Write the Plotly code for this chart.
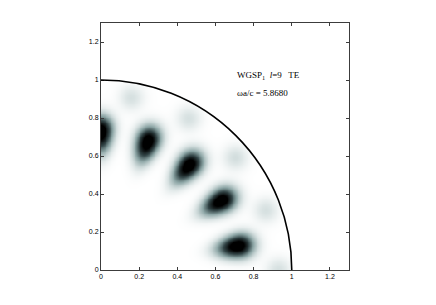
import numpy as np
import plotly.graph_objects as go

# Field lobes (polar position and relative strength)
blob_r = [0.73, 0.72, 0.72, 0.73, 0.73, 0.93, 0.92, 0.92, 0.92, 0.92]
blob_deg = [90, 70, 50, 30, 10, 0, 20, 40, 60, 80]
blob_peak = [1.0, 1.0, 1.0, 1.0, 1.0, 0.13, 0.13, 0.14, 0.13, 0.13]

tick_vals = [0, 0.2, 0.4, 0.6, 0.8, 1, 1.2]
tick_text = ["0", "0.2", "0.4", "0.6", "0.8", "1", "1.2"]

title_line1 = "WGSP<sub>1</sub>  <i>l</i>=9   TE"
title_line2 = "ωa/c = 5.8680"

# rendering grid
n = 300
gx = np.linspace(0, 1.3, n)
gy = np.linspace(0, 1.3, n)
X, Y = np.meshgrid(gx, gy)
R = np.hypot(X, Y)
T = np.arctan2(Y, X)
Z = np.zeros_like(X)
for r0, d0, p in zip(blob_r, blob_deg, blob_peak):
    t0 = np.deg2rad(d0)
    dr = R - r0
    if p > 0.5:
        sr = np.where(dr < 0, 0.075, 0.055)
        st = 0.042
    else:
        sr = 0.045
        st = 0.045
    dt = np.angle(np.exp(1j * (T - t0))) * r0
    Z += p * np.exp(-0.5 * (dr / sr) ** 2 - 0.5 * (dt / st) ** 2)
Z[R > 1] = 0

gray_teal = [
    [0.0, "rgb(255,255,255)"],
    [0.15, "rgb(215,225,225)"],
    [0.4, "rgb(140,165,165)"],
    [0.7, "rgb(50,68,70)"],
    [1.0, "rgb(0,0,0)"],
]

fig = go.Figure()
fig.add_trace(go.Heatmap(x=gx, y=gy, z=Z, colorscale=gray_teal, zmin=0, zmax=0.85,
                         showscale=False, hoverinfo="skip"))

fig.add_shape(type="circle", xref="x", yref="y", x0=-1, y0=-1, x1=1, y1=1,
              line=dict(color="black", width=1.6))

fig.add_annotation(x=0.705, y=1.025, xref="x", yref="y", text=title_line1,
                   showarrow=False, xanchor="left", yanchor="middle",
                   font=dict(family="Liberation Serif", size=9, color="black"))
fig.add_annotation(x=0.705, y=0.93, xref="x", yref="y", text=title_line2,
                   showarrow=False, xanchor="left", yanchor="middle",
                   font=dict(family="Liberation Serif", size=9, color="black"))

axis_common = dict(range=[0, 1.3], tickvals=tick_vals, ticktext=tick_text,
                   ticks="inside", ticklen=3, tickcolor="rgb(60,60,60)",
                   showline=True, linecolor="rgb(60,60,60)", linewidth=1, mirror="ticks",
                   showgrid=False, zeroline=False,
                   tickfont=dict(family="Liberation Sans", size=7, color="black"))
fig.update_xaxes(**axis_common)
fig.update_yaxes(**axis_common)

fig.update_layout(width=436, height=305, margin=dict(l=93, r=95, t=15, b=43),
                  paper_bgcolor="white", plot_bgcolor="white", showlegend=False)

fig.write_html("out.html")
